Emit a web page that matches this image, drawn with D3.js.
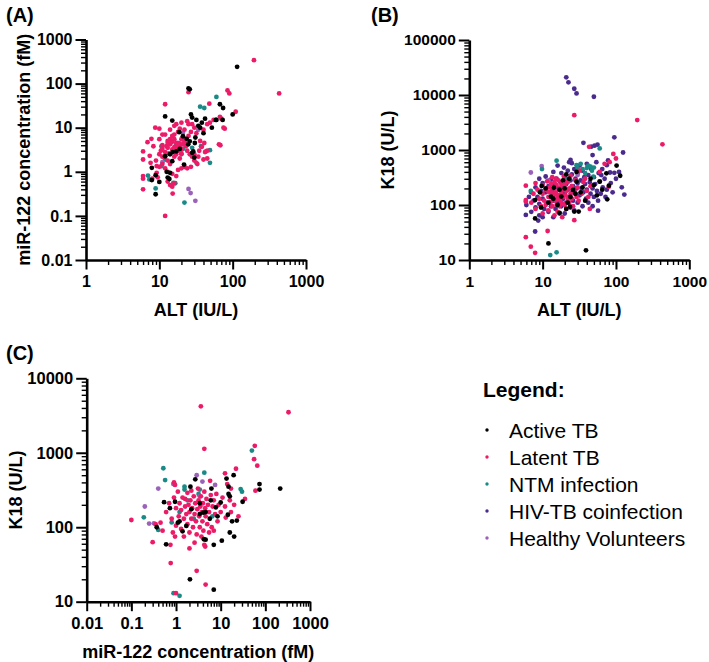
<!DOCTYPE html>
<html><head><meta charset="utf-8">
<script src="https://cdn.jsdelivr.net/npm/d3@7"></script>
<style>body{margin:0;background:#fff}svg{display:block}text{font-family:"Liberation Sans",Arial,sans-serif}</style>
</head><body>
<script>
// ---------- DATA ----------
const groups = ["Active TB","Latent TB","NTM infection","HIV-TB coinfection","Healthy Volunteers"];
const groupColors = ["#000000","#ec1b68","#1a8a86","#4a2a8c","#9a62b8"];

// Panel A: [ALT (IU/L), miR-122 (fM)]
const aActive = [[115,240],[25,78],[26,74],[12,18],[15,14.5],[27,20],[28,17],[32,15],[42,16],[34,11],[40,7.5],[52,10],[59,15],[67,34],[74,28],[73,15],[100,20],
[18.7,7.9],[21,6.4],[23.6,5.6],[26,4.9],[24.8,4.2],[30.5,4.5],[31,6],[36,10],[38,13],[60,15],[28,2.7],[30,2.1],[29,2.9],[15.2,2.8],[12,2.25],[14,2.5],[15,1.74],[21.7,1.46],[14,0.95],[13,0.74],[12.6,1.0],[13.7,0.69],[10,0.59],[7.9,0.65],[8.9,0.84],[8.9,0.31],[7.9,1.23],[19,3.3],[17,2.9]];
const aLatent = [[195,340],[430,60],[25,64],[85,70],[90,60],[110,23],[12,34],[48,35],[67,17.6],[75,10],[68,4],[49,13],[45,2],
[6,2.9],[6,1.9],[6,0.8],[6,0.7],[6,0.4],[6.9,4.7],[7.8,5.6],[8.3,3.8],[8.8,10],[7.4,2.3],[7.6,1.6],[9.2,1.35],[9.2,0.95],
[12,0.1],[15.2,0.32],[15,0.46],[14,0.5],[16,0.55],[13,0.6],[17,0.8],[18,1.1],[20,1.2],[22,1.3],[24,1.2],[27,1.3],[30,1.8],[33,1.5],[40,1.9],[41,4.5],[45,3.0],[38,3.7],[36,5.0],[32,7.5],[30,10],[28,12],[24,14],[20,13],[17,12],[14,9],[12,7],[11,7],[10,9.5],[10,5.5],[11,4],[10.5,3],[10,2.5],[11,2.2],[12,2.8],[13,3.5],[14,4.2],[15,4.8],[16,5.5],[17,4.5],[18,4.0],[19,3.6],[20,3.2],[21,4.2],[22,5],[23,3.8],[24,3],[26,2.5],[28,2.2],[13,1.8],[14,1.5],[16,2.2],[17,2.5],[18,3],[19,2],[20,2.6],[12,2.2],[11,3.3],[12.5,3.8],[13.5,2.6],[15,3.2],[16,3.6],[17.5,3.4],[19,4.4],[20,5.5],[21,6.2],[22,4.6],[14,5.5],[15,6.5],[13,5],[16,7],[18,8],[19,9.5],[9,1.8],[10,1.3],[11,1.5],[12,1.2],[13,1.0],[15,0.9],[9.5,0.75],[8,0.7],[25,6.5],[27,8],[35,3],[34,2.2],[30,2.5],[42,2.8],[55,15],[70,16],[78,9.5],[65,4.2],[40,9],[45,12],[25,12],[22,9],[16,11]];
const aNTM = [[60,50],[36,30],[41,28],[49,3.1],[49,1.6],[37,3.8],[32,1.6],[22,1.3],[20,2.5],[15.5,0.56],[16.5,0.55],[22,0.2],[8.9,0.42],[7,0.82],[7.3,0.67],[12,1.9],[10.7,3.8],[13,4.5],[10.7,1.35],[17,4.2],[21,3.3],[28,3.5]];
const aHealthy = [[25,0.41],[26.7,0.33],[31,0.22],[43,2.9],[21,7.7],[34,9],[11,1.65],[18,4.5]];

// Panel B: [ALT (IU/L), K18 (U/L)]
const bHIV = [[21,21000],[22.5,17000],[27,13000],[29,10700],[50,9300],[95,1700],[36,1350],[56,1250],[51,1200],[46,1150],[48,810],[125,900],[130,155],[83,390],[95,385],[63,350],[75,530],[57,79],[5.9,66],[7.9,33],[8.7,52],[24,660],[25,575],
[6,100],[6.5,140],[7,75],[7,170],[7.5,120],[8,90],[8,210],[8.5,140],[9,65],[9,105],[9,300],[9.5,180],
[10,60],[10,130],[10,250],[10.5,85],[11,170],[11,330],[11.5,110],[12,75],[12,220],[12.5,140],[13,95],[13,290],[13.5,180],[14,60],[14,120],[14,400],[14.5,230],
[15,85],[15,160],[15.5,300],[16,110],[16,520],[16.5,200],[17,70],[17,140],[17.5,260],[18,95],[18,380],[18.5,180],[19,130],[19,230],[19.5,480],[20,70],[20,160],[20,320],
[21,110],[21,240],[22,190],[22,420],[23,140],[23,600],[24,90],[24,280],[25,170],[25,360],[26,120],[26,220],[27,450],[27,80],[28,160],[28,300],[29,200],[30,110],[30,380],[30,250],
[32,150],[32,520],[33,280],[34,200],[35,95],[35,420],[36,170],[37,320],[38,240],[39,130],[40,560],[40,190],[42,110],[42,350],[44,260],[45,160],[46,450],[48,200],[48,95],[50,320],[50,140],
[52,240],[54,600],[55,180],[57,120],[58,380],[60,270],[62,160],[65,450],[66,210],[70,300],[72,140],[75,190],[78,650],[85,250],[90,170],[100,300],[110,400],[120,210]];
const bLatent = [[27,4300],[195,3500],[430,1270],[92,850],[100,700],[80,215],[5.9,26],[6.9,17.5],[7.9,13.5],[11.7,33.7],[27,53],[44,85],[5.9,225],[5.9,123],[5.9,115],[43,1140],[82,600],[70,560],[60,400],[45,220],
[7,110],[7.5,160],[8,250],[8,85],[8.5,190],[9,130],[9.5,95],[10,160],[10,230],[10,70],[10.5,120],[11,190],[11,100],[11.5,270],[12,140],[12,80],[12.5,210],[13,115],[13,170],[13.5,320],[13.5,95],[14,140],[14,200],[14.5,65],[14.5,260],[15,120],[15,170],[15.5,100],[15.5,230],[16,150],[16,75],[16.5,190],[16.5,280],[17,125],[17,95],[17.5,210],[18,160],[18,240],[18,110],[18.5,60],[19,140],[19,190],[19.5,330],[20,100],[20,230],[20.5,150],[21,180],[21,85],[22,130],[22,260],[23,200],[23,110],[24,160],[24,340],[25,130],[25,220],[26,95],[27,180],[28,280],[29,140],[30,210],[31,120],[32,420],[34,160],[36,260],[38,300],[40,180],[42,140],[13,240],[14,160],[16,130],[15,300],[12,175],[19,105],[21,270],[17,155]];
const bActive = [[102,520],[114,340],[74,377],[80,225],[76,127],[39,15],[12,20],[7.9,57],[9.2,170],[7.9,123],[31,76],[27,76],[17,72],[60,265],[50,230],[45,300],[29,400],[21,360],[29,265],[26,188],[24,140],[23.6,93],[22,110],[20,200],[18,142],[16,100],[14.3,206],[14,130],[13,142],[12,110],[11,200],[9.7,222],[9.5,90],[33,170],[38,120],[21,85],[28,160],[35,210],[17,190],[23,300],[19,280],[55,150],[65,190]];
const bNTM = [[12.7,12.3],[15.5,13.8],[6.9,180],[15.5,640],[29,530],[33,560],[60,1070],[49,327],[9.8,450],[35,450],[40,470],[45,500],[38,380],[42,520],[50,480],[30,470],[20,300],[15,160],[25,220],[47,420]];
const bHealthy = [[9.7,510],[6.9,390],[12,280],[30,350]];

// Panel C: [miR-122 (fM), K18 (U/L)]
const cActive = [[215,330],[74,380],[74,320],[31,220],[19.5,500],[13.5,450],[15,350],[15,280],[16,260],[14.5,147],[18,120],[23,123],[16,85],[20,75],[10.6,66],[7,58],[4.6,68],[4.2,69],[7,14.5],[2.05,20],[0.37,100],[0.6,59],[0.54,217],[0.73,180],[0.95,220],[1.2,120],[1.4,88],[1.7,104],[2.2,175],[2.7,440],[2.1,350],[3.4,210],[4.1,157],[3.4,150],[4.6,160],[5.7,130],[6.2,330],[6,230],[7.8,185],[10,215],[1.1,115],[8.5,140]];
const cLatent = [[3.6,4200],[330,3500],[4.3,1130],[58,1240],[56,820],[66,670],[60,310],[22,610],[12.5,530],[0.1,125],[0.3,63],[0.76,33],[2.9,26],[4.6,17],[1,13],[2,52],[4.3,58],[4.5,55],[35,240],[17,330],[0.45,115],[0.5,90],[0.75,58],[0.35,110],[0.9,400],[0.95,370],
[0.6,160],[0.7,210],[0.8,130],[0.85,85],[0.9,250],[1,180],[1,105],[1.1,300],[1.15,140],[1.2,210],[1.3,95],[1.3,170],[1.4,250],[1.5,130],[1.5,75],[1.6,190],[1.7,150],[1.8,110],[1.8,290],[1.9,200],[2,160],[2,85],[2.1,230],[2.2,130],[2.3,180],[2.4,100],[2.5,260],[2.6,150],[2.7,210],[2.8,120],[2.9,80],[3,175],[3.1,330],[3.2,230],[3.3,140],[3.4,100],[3.5,190],[3.6,260],[3.8,160],[3.9,120],[4,210],[4.1,90],[4.3,300],[4.5,180],[4.6,140],[4.8,240],[5,110],[5.2,200],[5.5,160],[5.8,420],[6,270],[6.3,100],[6.6,190],[7,230],[7.5,150],[8,280],[8.5,120],[9,200],[10,160],[11,250],[12.5,190],[13,135],[14,380],[16,230],[17,160],[20,200],[25,140],[1.6,240],[2.2,310],[3.7,75],[5.5,85],[0.95,75],[2.6,62],[7,90]];
const cNTM = [[0.52,620],[0.57,430],[0.19,136],[0.4,92],[0.8,116],[1.55,350],[1.55,320],[4.3,540],[28,325],[30,300],[50,1070],[0.88,13],[1.2,12],[3.2,280],[1.8,230],[1.2,160],[3.4,320],[2.5,130],[6.5,140]];
const cHealthy = [[0.2,190],[0.4,330],[0.32,113],[0.87,380],[2.9,500],[3.9,410],[7.5,370],[3.4,260],[0.25,112]];

// tick decades
const ticksA_x = [1,10,100,1000], ticksA_y = [0.01,0.1,1,10,100,1000];
const ticksB_x = [1,10,100,1000], ticksB_y = [10,100,1000,10000,100000];
const ticksC_x = [0.01,0.1,1,10,100,1000], ticksC_y = [10,100,1000,10000];

// ---------- DRAW ----------
const svg = d3.select("body").append("svg").attr("width",709).attr("height",662);
const color = d3.scaleOrdinal().domain(groups).range(groupColors);

function minors(major){
  const out=[];
  for(let i=0;i<major.length-1;i++) for(let k=2;k<=9;k++) out.push(k*major[i]);
  return out;
}
function styleAxis(s, w, fs){
  s.select(".domain").attr("stroke","#000").attr("stroke-width",2.6);
  s.selectAll(".tick line").attr("stroke","#000").attr("stroke-width",w);
  s.selectAll(".tick text").attr("fill","#000").attr("font-weight","bold").attr("font-size",fs+"px");
}

function panel(cfg){
  const g = svg.append("g");
  const x = d3.scaleLog().domain([cfg.xt[0], cfg.xt[cfg.xt.length-1]]).range(cfg.xr);
  const y = d3.scaleLog().domain([cfg.yt[0], cfg.yt[cfg.yt.length-1]]).range(cfg.yr);
  const y0 = cfg.yr[0], x0 = cfg.xr[0];
  // minor ticks
  g.append("g").attr("transform",`translate(0,${y0})`)
    .call(d3.axisBottom(x).tickValues(minors(cfg.xt)).tickSize(5).tickFormat(""))
    .call(s=>{s.select(".domain").remove(); s.selectAll("line").attr("stroke","#000").attr("stroke-width",1.4);});
  g.append("g").attr("transform",`translate(${x0},0)`)
    .call(d3.axisLeft(y).tickValues(minors(cfg.yt)).tickSize(5).tickFormat(""))
    .call(s=>{s.select(".domain").remove(); s.selectAll("line").attr("stroke","#000").attr("stroke-width",1.4);});
  // major axes
  g.append("g").attr("transform",`translate(0,${y0})`)
    .call(d3.axisBottom(x).tickValues(cfg.xt).tickSize(9.5).tickSizeOuter(0).tickPadding(6).tickFormat(d=>String(d)))
    .call(s=>styleAxis(s,2,cfg.fs));
  g.append("g").attr("transform",`translate(${x0},0)`)
    .call(d3.axisLeft(y).tickValues(cfg.yt).tickSize(10.5).tickSizeOuter(0).tickPadding(3).tickFormat(d=>String(d)))
    .call(s=>styleAxis(s,2,cfg.fs));
  // axis titles
  g.append("text").attr("x",(cfg.xr[0]+cfg.xr[1])/2).attr("y",y0+56)
    .attr("text-anchor","middle").attr("font-weight","bold").attr("font-size","18px").text(cfg.xTitle);
  g.append("text").attr("transform",`translate(${cfg.yTitleX},${(cfg.yr[0]+cfg.yr[1])/2}) rotate(-90)`)
    .attr("text-anchor","middle").attr("font-weight","bold").attr("font-size","18px").text(cfg.yTitle);
  g.append("text").attr("x",cfg.lab[0]).attr("y",cfg.lab[1]).attr("font-weight","bold").attr("font-size","20px").text(cfg.label);
  // points
  cfg.series.forEach(([name,data])=>{
    g.append("g").selectAll("circle").data(data).join("circle")
      .attr("cx",d=>x(d[0])).attr("cy",d=>y(d[1])).attr("r",2.4).attr("fill",color(name));
  });
}

panel({xt:ticksA_x, yt:ticksA_y, xr:[86,306], yr:[260,39.5], fs:16, xTitle:"ALT (IU/L)", yTitle:"miR-122 concentration (fM)", yTitleX:30, label:"(A)", lab:[6,22],
  series:[["NTM infection",aNTM],["Healthy Volunteers",aHealthy],["Latent TB",aLatent],["Active TB",aActive]]});
panel({xt:ticksB_x, yt:ticksB_y, xr:[469.3,689.3], yr:[260,40], fs:15.5, xTitle:"ALT (IU/L)", yTitle:"K18 (U/L)", yTitleX:394, label:"(B)", lab:[371,22],
  series:[["HIV-TB coinfection",bHIV],["Healthy Volunteers",bHealthy],["NTM infection",bNTM],["Latent TB",bLatent],["Active TB",bActive]]});
panel({xt:ticksC_x, yt:ticksC_y, xr:[86.7,310], yr:[601.7,378.3], fs:16.5, xTitle:"miR-122 concentration (fM)", yTitle:"K18 (U/L)", yTitleX:22, label:"(C)", lab:[6,360],
  series:[["NTM infection",cNTM],["Healthy Volunteers",cHealthy],["Latent TB",cLatent],["Active TB",cActive]]});

// legend
const lg = svg.append("g");
lg.append("text").attr("x",483).attr("y",397).attr("font-weight","bold").attr("font-size","21px").text("Legend:");
groups.forEach((name,i)=>{
  const cy = 430 + i*27;
  lg.append("circle").attr("cx",487).attr("cy",cy).attr("r",1.7).attr("fill",color(name));
  lg.append("text").attr("x",509).attr("y",cy+7.5).attr("font-size","21px").attr("fill","#000").text(name);
});
</script>
</body></html>
